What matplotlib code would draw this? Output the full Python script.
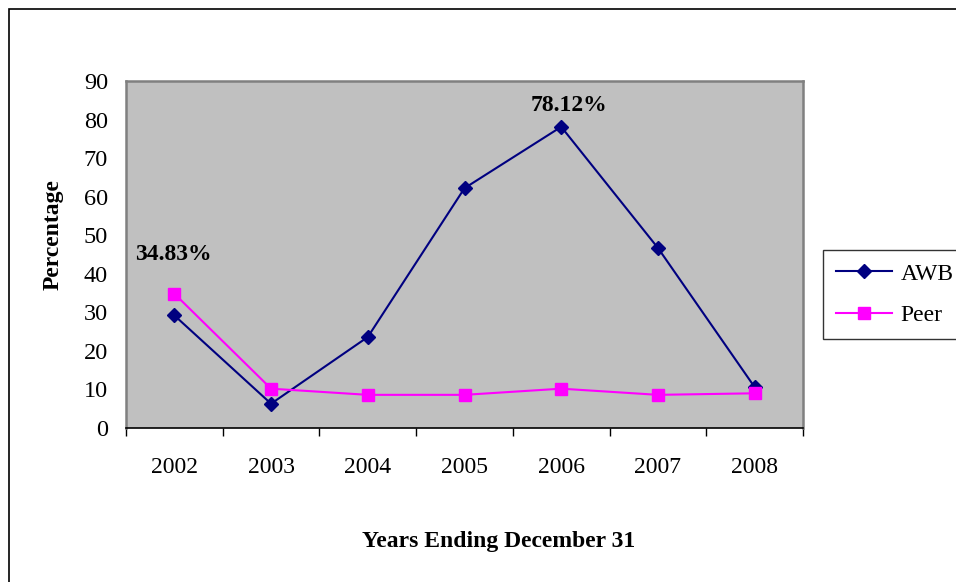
import matplotlib
matplotlib.use("Agg")
import matplotlib.pyplot as plt
from matplotlib.patches import Rectangle

years = ["2002", "2003", "2004", "2005", "2006", "2007", "2008"]
awb = [29.2, 6.3, 23.6, 62.2, 78.12, 46.7, 10.6]
peer = [34.83, 10.2, 8.6, 8.6, 10.2, 8.6, 9.0]
yticks = [0, 10, 20, 30, 40, 50, 60, 70, 80, 90]

plt.rcParams['font.family'] = ['Liberation Serif', 'DejaVu Serif']

W, H = 956, 582
FS = 17
fig = plt.figure(figsize=(W / 100, H / 100), dpi=100)
fig.patch.set_facecolor('white')

# outer chart border (cut off at right and bottom)
fig.patches.append(Rectangle((8.5 / W, -0.2), 1.5, 1.2 - 8.5 / H,
                             transform=fig.transFigure, fill=False,
                             edgecolor='black', linewidth=1.2))

ax = fig.add_axes([126 / W, 1 - 428 / H, (803 - 126) / W, (428 - 81) / H])
ax.set_facecolor('#C0C0C0')

x = list(range(len(years)))
l1, = ax.plot(x, awb, color='#000080', lw=1.5, marker='D', markersize=7,
              markerfacecolor='#000080', markeredgecolor='#000080', label='AWB')
l2, = ax.plot(x, peer, color='#FF00FF', lw=1.5, marker='s', markersize=8,
              markerfacecolor='#FF00FF', markeredgecolor='#FF00FF', label='Peer')

ax.set_xlim(-0.5, len(years) - 0.5)
ax.set_ylim(0, 90)
ax.set_yticks(yticks)
ax.set_yticklabels([str(v) for v in yticks], fontsize=FS + 0.5)
ax.set_xticks(x)
ax.set_xticklabels(years, fontsize=FS)
ax.set_xticks([i - 0.5 for i in range(len(years) + 1)], minor=True)
ax.tick_params(axis='x', which='major', length=0, pad=21)
ax.tick_params(axis='x', which='minor', length=6, width=1, color='black', direction='out')
ax.tick_params(axis='y', which='both', length=0, pad=13)

for s in ['top', 'right', 'left']:
    ax.spines[s].set_color('#808080')
    ax.spines[s].set_linewidth(1.8)
ax.spines['bottom'].set_color('black')
ax.spines['bottom'].set_linewidth(1.2)

# data labels
ax.annotate(f"{peer[0]:.2f}%", (x[0], peer[0]), xytext=(-1, 39), textcoords='offset pixels',
            ha='center', va='center', fontsize=FS, fontweight='bold')
ax.annotate(f"{awb[4]:.2f}%", (x[4], awb[4]), xytext=(8, 21), textcoords='offset pixels',
            ha='center', va='center', fontsize=FS, fontweight='bold')

fig.text(53 / W, 1 - 235 / H, "Percentage", rotation=90, ha='center', va='center',
         fontsize=FS, fontweight='bold')
fig.text(499 / W, 1 - 542 / H, "Years Ending December 31", ha='center', va='center',
         fontsize=FS, fontweight='bold')

leg = fig.legend(handles=[l1, l2], loc='upper left', bbox_to_anchor=(822.7 / W, 1 - 250 / H),
                 fontsize=FS, frameon=True, fancybox=False, edgecolor='black',
                 handlelength=2.4, handletextpad=0.35, labelspacing=0.85,
                 borderpad=0.55, borderaxespad=0)
leg.get_frame().set_linewidth(1.0)

fig.savefig("out.png", dpi=100)
